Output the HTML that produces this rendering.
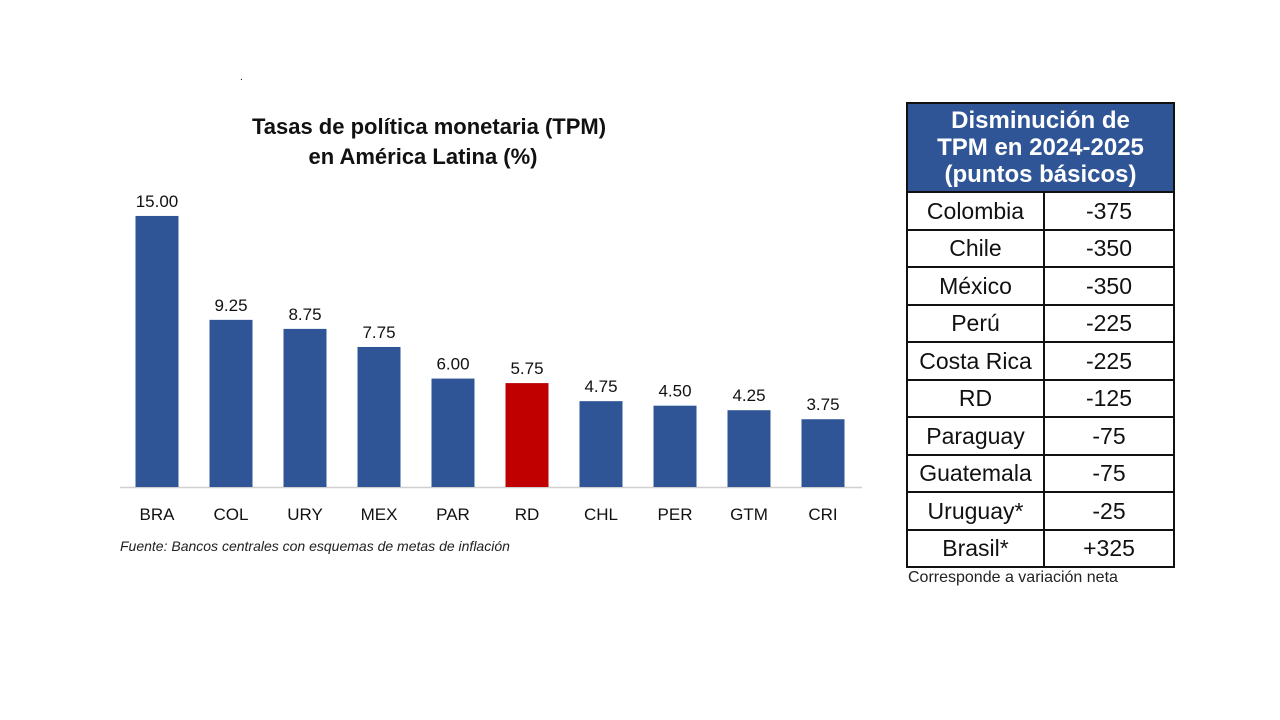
<!DOCTYPE html>
<html><head><meta charset="utf-8"><style>
body{margin:0;width:1280px;height:720px;background:#fff;position:relative;overflow:hidden;font-family:"Liberation Sans",sans-serif}
#chart{position:absolute;left:0;top:0}
table{position:absolute;left:906px;top:102px;border-collapse:collapse;width:269px}
td{border:2px solid #111;text-align:center;font-size:23px;color:#111;height:35.5px;padding:0;line-height:24px}
th{background:#2f5597;color:#fff;font-size:24px;font-weight:bold;line-height:27px;height:87px;border:2px solid #111;padding:0}
.note{position:absolute;left:908px;top:569px;font-size:16px;color:#222}
</style></head><body>
<svg id="chart" width="880" height="600">
<text x="240" y="80" font-size="10">.</text>
<text x="429" y="134" text-anchor="middle" font-size="22" font-weight="bold" fill="#111">Tasas de política monetaria (TPM)</text>
<text x="423" y="164" text-anchor="middle" font-size="22" font-weight="bold" fill="#111">en América Latina (%)</text>
<line x1="120" y1="487.5" x2="862" y2="487.5" stroke="#d0d0d0" stroke-width="1.5"/>
<g id="bars"></g>
<text x="120" y="551" font-size="14" font-style="italic" fill="#222">Fuente: Bancos centrales con esquemas de metas de inflación</text>
</svg>
<table>
<tr><th colspan="2">Disminución de<br>TPM en 2024-2025<br>(puntos básicos)</th></tr>
<tr><td style="width:135px">Colombia</td><td>-375</td></tr>
<tr><td>Chile</td><td>-350</td></tr>
<tr><td>México</td><td>-350</td></tr>
<tr><td>Perú</td><td>-225</td></tr>
<tr><td>Costa Rica</td><td>-225</td></tr>
<tr><td>RD</td><td>-125</td></tr>
<tr><td>Paraguay</td><td>-75</td></tr>
<tr><td>Guatemala</td><td>-75</td></tr>
<tr><td>Uruguay*</td><td>-25</td></tr>
<tr><td>Brasil*</td><td>+325</td></tr>
</table>
<div class="note">Corresponde a variación neta</div>
<script>
const categories=["BRA","COL","URY","MEX","PAR","RD","CHL","PER","GTM","CRI"];
const values=[15.00,9.25,8.75,7.75,6.00,5.75,4.75,4.50,4.25,3.75];
const labels=["15.00","9.25","8.75","7.75","6.00","5.75","4.75","4.50","4.25","3.75"];
const NS="http://www.w3.org/2000/svg";
const base=487,scale=18.07;
const xPos=i=>157+i*74;
const yPos=v=>base-v*scale;
const g=document.getElementById('bars');
categories.forEach((c,i)=>{
 const r=document.createElementNS(NS,'rect');
 r.setAttribute('x',xPos(i)-21.5);r.setAttribute('width',43);
 r.setAttribute('y',yPos(values[i]));r.setAttribute('height',base-yPos(values[i]));
 r.setAttribute('fill',c==="RD"?"#c00000":"#2f5597");
 
 
 g.appendChild(r);
 const t=document.createElementNS(NS,'text');
 t.setAttribute('x',xPos(i));t.setAttribute('y',yPos(values[i])-9);
 t.setAttribute('text-anchor','middle');t.setAttribute('font-size','17');t.setAttribute('fill','#111');
 t.textContent=labels[i];
 
 
 g.appendChild(t);
 const l=document.createElementNS(NS,'text');
 l.setAttribute('x',xPos(i));l.setAttribute('y',520);
 l.setAttribute('text-anchor','middle');l.setAttribute('font-size','17');l.setAttribute('fill','#111');
 l.textContent=c;
 
 
 g.appendChild(l);
});
</script>
</body></html>
